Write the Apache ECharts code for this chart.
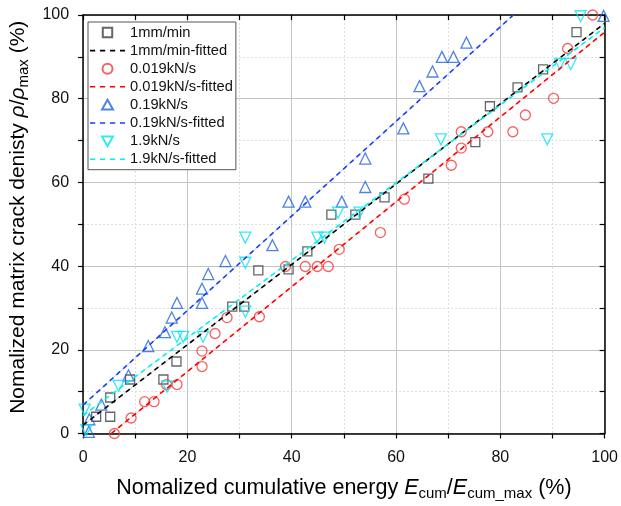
<!DOCTYPE html>
<html>
<head>
<meta charset="utf-8">
<script src="https://cdn.jsdelivr.net/npm/echarts@6/dist/echarts.min.js"></script>
<style>
html,body{margin:0;padding:0;background:#fff;}
#c{width:621px;height:506px;}
</style>
</head>
<body>
<div id="c"></div>
<script>
// ---- data ----
var xTicks = [0, 20, 40, 60, 80, 100];
var yTicks = [0, 20, 40, 60, 80, 100];

var names = ['1mm/min', '1mm/min-fitted', '0.019kN/s', '0.019kN/s-fitted',
             '0.19kN/s', '0.19kN/s-fitted', '1.9kN/s', '1.9kN/s-fitted'];

var sq1mm = [[2.5,4],[5.2,4],[5.2,8.6],[9,12.9],[15.4,12.9],[17.9,17.2],[28.6,30.3],[30.9,30.3],
  [33.6,39],[39.4,39.2],[43,43.5],[47.6,52.3],[52.2,52.3],[57.8,56.4],[66.2,60.9],[75.2,69.6],
  [78,78.2],[83.3,82.7],[88.2,87],[94.6,95.9]];
var fit1mm = [[0,2],[100,98]];

var circ019 = [[6,0],[9.2,3.7],[11.8,7.6],[13.6,7.6],[16,11.7],[18,11.7],[22.8,16],[22.8,19.7],
  [25.3,23.9],[27.6,27.7],[33.8,27.9],[38.8,39.9],[42.6,39.9],[44.9,39.9],[47,39.9],[49.1,44],
  [57,48],[61.6,56],[70.6,64.1],[72.5,68.2],[72.5,72.1],[77.6,72.1],[82.4,72.1],[84.8,76.1],[90.2,80.1],
  [92.9,92],[97.7,100]];
var fit019 = [[5.4,0],[100,95.9]];

var tri019 = [[1.1,0.4],[1.2,3.4],[3.5,6.9],[8.7,13.9],[12.5,20.9],[15.7,24.2],[17,27.7],[18,31.2],
  [22.8,31.2],[22.8,34.6],[24,38.1],[27.3,41.2],[36.3,45],[39.4,55.4],[42.6,55.4],[49.6,55.4],
  [54.1,58.9],[54.1,65.7],[61.4,72.9],[64.5,83],[67,86.5],[68.8,90],[71,90],[73.5,93.4],[99.8,99.8]];
var fit19 = [[0,6.8],[82.5,100]];

var tri19 = [[0.6,0.8],[0.3,5.7],[6.8,11.4],[16.1,11.2],[18,23.1],[19.2,23.1],[23,23.1],[31.1,29.1],
  [31.1,40.8],[31.1,46.8],[44.9,46.8],[46.3,46.8],[48.9,52.8],[53,52.8],[68.6,70.3],[89,70.3],
  [91.4,88.3],[93.5,88.3],[95.4,99.7]];
var fit190 = [[0,4.3],[100,97]];

var FONT = 'Liberation Sans, Arial, sans-serif';

// legend icons (keep aspect; invisible moveTo points define the box)
var ICON_SQ = 'path://M0,0M11,11M0.8,0.8h9.4v9.4h-9.4z';
var ICON_CI = 'path://M0,0M11,11M10.5,5.5A5,5,0,1,1,0.5,5.5A5,5,0,1,1,10.5,5.5Z';
var ICON_UP = 'path://M0,0M11,11M5.5,0.3L11,10.2L0,10.2Z';
var ICON_DN = 'path://M0,0M11,11M0,0.8L11,0.8L5.5,10.7Z';
var ICON_DASH = 'path://M0,0M35,11M0,4.7h5.2v1.6h-5.2zM10,4.7h5.2v1.6h-5.2zM20,4.7h5.2v1.6h-5.2zM30,4.7h5v1.6h-5z';
var icons = [ICON_SQ, ICON_DASH, ICON_CI, ICON_DASH, ICON_UP, ICON_DASH, ICON_DN, ICON_DASH];

function scatter(name, data, color, symbol, size, rotate) {
  return {
    name: name, type: 'scatter', data: data, symbol: symbol, symbolSize: size,
    symbolRotate: rotate || 0,
    itemStyle: { color: 'rgba(255,255,255,0)', borderColor: color, borderWidth: 1.3 },
    z: 3, silent: true
  };
}
function fit(name, data, color) {
  return {
    name: name, type: 'line', data: data, symbol: 'none', showSymbol: false,
    lineStyle: { color: color, width: 1.6, type: [5, 4] },
    itemStyle: { color: color },
    z: 4, silent: true
  };
}
function faint(data, color) {
  return {
    type: 'line', data: data, symbol: 'none', showSymbol: false,
    lineStyle: { color: color, width: 1 }, z: 2, silent: true
  };
}

var chart = echarts.init(document.getElementById('c'), null, { renderer: 'canvas' });

var richTitle = function (size, sub) {
  return {
    n: { fontFamily: FONT, fontSize: size, color: '#000', lineHeight: size + 5 },
    i: { fontFamily: FONT, fontSize: size, fontStyle: 'italic', color: '#000', lineHeight: size + 5 },
    s: { fontFamily: FONT, fontSize: sub, color: '#000', lineHeight: sub - 1, verticalAlign: 'bottom' }
  };
};

var option = {
  backgroundColor: '#fff',
  animation: false,
  textStyle: { fontFamily: FONT },
  grid: { left: 83, right: 15.5, top: 15, bottom: 72 },
  legend: {
    data: names.map(function (n, k) { return { name: n, icon: icons[k] }; }),
    orient: 'vertical',
    left: 88, top: 22,
    padding: [3, 3, 3, 2],
    itemGap: 3.1,
    itemWidth: 35, itemHeight: 11,
    itemTextGap: 3,
    symbolKeepAspect: true,
    borderColor: '#555', borderWidth: 1,
    backgroundColor: '#fff',
    textStyle: { fontFamily: FONT, fontSize: 14.7, color: '#111', lineHeight: 15 }
  },
  xAxis: [{
    type: 'value', position: 'bottom', min: 0, max: 100, interval: 20,
    name: '{n|Nomalized cumulative energy }{i|E}{s|cum}{n|/}{i|E}{s|cum_max}{n| (%)}',
    nameLocation: 'middle', nameGap: 41,
    nameTextStyle: { rich: richTitle(21.5, 15) },
    axisLine: { show: true, onZero: false, lineStyle: { color: '#000', width: 1.5 } },
    axisTick: { show: true, inside: false, length: 5, lineStyle: { color: '#000', width: 1.2 } },
    minorTick: { show: true, splitNumber: 2, length: 5, lineStyle: { color: '#000', width: 1.2 } },
    axisLabel: { fontFamily: FONT, fontSize: 16, color: '#111', margin: 16,
      formatter: function (v) { return xTicks.indexOf(v) >= 0 ? String(v) : ''; } },
    splitLine: { show: true, lineStyle: { color: '#c4c4c4', width: 1 } },
    minorSplitLine: { show: true, lineStyle: { color: '#dedede', width: 1, type: [2, 2] } }
  }, {
    type: 'value', position: 'top', min: 0, max: 100, interval: 20,
    axisLine: { show: true, onZero: false, lineStyle: { color: '#000', width: 1.5 } },
    axisTick: { show: true, inside: true, length: 5, lineStyle: { color: '#000', width: 1.2 } },
    minorTick: { show: true, splitNumber: 2, length: 5, lineStyle: { color: '#000', width: 1.2 } },
    axisLabel: { show: false }, splitLine: { show: false }
  }],
  yAxis: [{
    type: 'value', position: 'left', min: 0, max: 100, interval: 20,
    name: '{n|Nomalized matrix crack denisty }{i|ρ}{n|/}{i|ρ}{s|max}{n| (%)}',
    nameLocation: 'middle', nameGap: 51,
    nameTextStyle: { rich: richTitle(21, 15), padding: [0, 0, 0, 14] },
    axisLine: { show: true, onZero: false, lineStyle: { color: '#000', width: 1.5 } },
    axisTick: { show: true, inside: false, length: 5, lineStyle: { color: '#000', width: 1.2 } },
    minorTick: { show: true, splitNumber: 2, length: 5, lineStyle: { color: '#000', width: 1.2 } },
    axisLabel: { fontFamily: FONT, fontSize: 16, color: '#111', margin: 14,
      formatter: function (v) { return yTicks.indexOf(v) >= 0 ? String(v) : ''; } },
    splitLine: { show: true, lineStyle: { color: '#c4c4c4', width: 1 } },
    minorSplitLine: { show: true, lineStyle: { color: '#dedede', width: 1, type: [2, 2] } }
  }, {
    type: 'value', position: 'right', min: 0, max: 100, interval: 20,
    axisLine: { show: true, onZero: false, lineStyle: { color: '#000', width: 1.5 } },
    axisTick: { show: true, inside: true, length: 5, lineStyle: { color: '#000', width: 1.2 } },
    minorTick: { show: true, splitNumber: 2, length: 5, lineStyle: { color: '#000', width: 1.2 } },
    axisLabel: { show: false }, splitLine: { show: false }
  }],
  series: [
    faint(fit1mm, 'rgba(120,120,120,0.35)'),
    faint(fit019, 'rgba(255,120,120,0.45)'),
    faint(fit19, 'rgba(110,150,255,0.45)'),
    faint(fit190, 'rgba(120,230,240,0.45)'),
    scatter(names[0], sq1mm, '#404040', 'rect', 9),
    fit(names[1], fit1mm, '#000000'),
    scatter(names[2], circ019, '#f23a3a', 'circle', 10),
    fit(names[3], fit019, '#ff0000'),
    scatter(names[4], tri019, '#2063e0', 'triangle', 11),
    fit(names[5], fit19, '#1c3ef0'),
    scatter(names[6], tri19, '#00e4f4', 'triangle', 11, 180),
    fit(names[7], fit190, '#00f0f0')
  ]
};
chart.setOption(option);
</script>
</body>
</html>
